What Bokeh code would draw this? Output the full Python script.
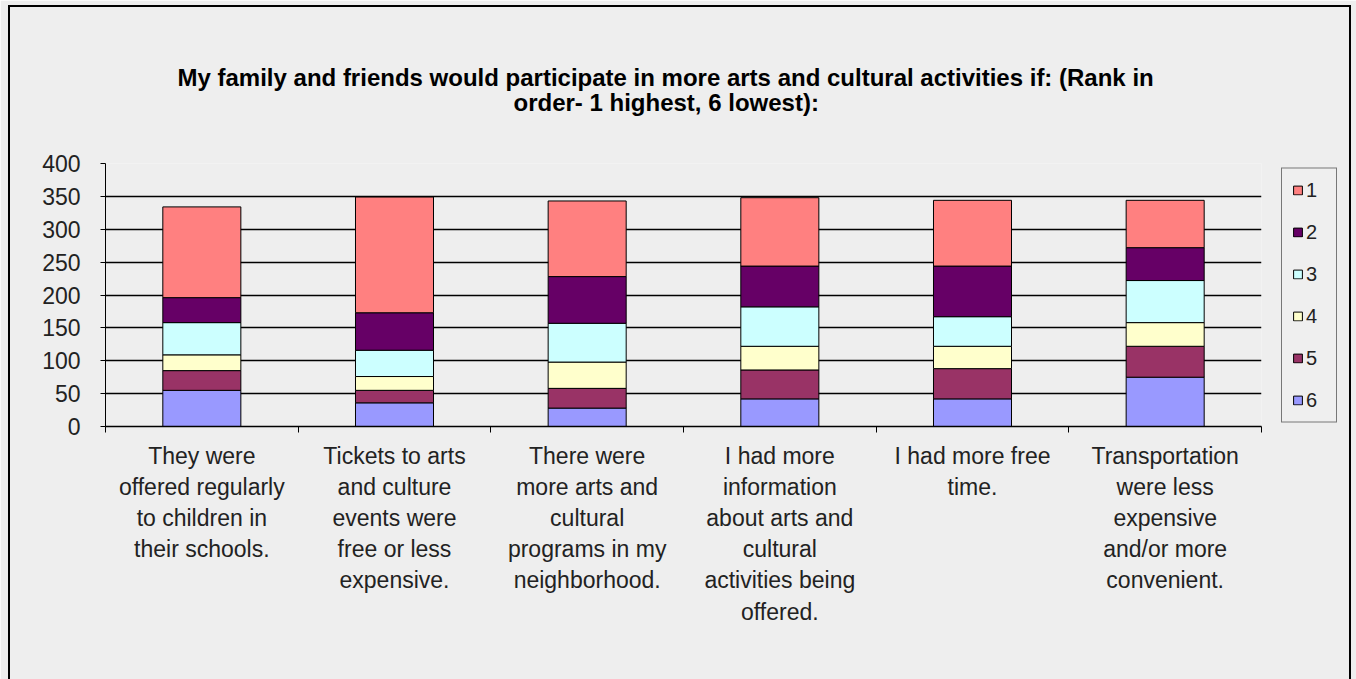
from bokeh.plotting import figure
from bokeh.models import FixedTicker, Legend, LegendItem, ColumnDataSource, Range1d, Title, InlineStyleSheet
from bokeh.embed import file_html
from bokeh.resources import INLINE

title_line1 = "My family and friends would participate in more arts and cultural activities if: (Rank in"
title_line2 = "order- 1 highest, 6 lowest):"

categories = [
    "They were\noffered regularly\nto children in\ntheir schools.",
    "Tickets to arts\nand culture\nevents were\nfree or less\nexpensive.",
    "There were\nmore arts and\ncultural\nprograms in my\nneighborhood.",
    "I had more\ninformation\nabout arts and\ncultural\nactivities being\noffered.",
    "I had more free\ntime.",
    "Transportation\nwere less\nexpensive\nand/or more\nconvenient.",
]

rank_names = ["1", "2", "3", "4", "5", "6"]
rank1 = [138, 176, 115, 104, 100, 72]
rank2 = [38, 57, 71, 62, 77, 50]
rank3 = [49, 40, 59, 60, 45, 64]
rank4 = [24, 21, 40, 36, 34, 36]
rank5 = [30, 19, 30, 44, 46, 47]
rank6 = [55, 36, 28, 42, 42, 75]
rank_colors = ["#FF8080", "#660066", "#CCFFFF", "#FFFFCC", "#993366", "#9999FF"]

y_ticks = [0, 50, 100, 150, 200, 250, 300, 350, 400]

FONT = "Liberation Sans"
BG = "#EEEEEE"

xpos = [i + 0.5 for i in range(len(categories))]
source = ColumnDataSource(dict(x=xpos, r1=rank1, r2=rank2, r3=rank3, r4=rank4, r5=rank5, r6=rank6))

p = figure(frame_width=1156, frame_height=263,
           x_range=Range1d(0, len(categories)), y_range=Range1d(0, 400),
           output_backend="svg", toolbar_location=None,
           min_border_left=105, min_border_right=95, min_border_top=163, min_border_bottom=253)
p.background_fill_color = BG
p.border_fill_color = BG
p.outline_line_color = None

stackers = ["r6", "r5", "r4", "r3", "r2", "r1"]
fills = list(reversed(rank_colors))
rends = p.vbar_stack(stackers, x="x", width=0.405, fill_color=fills, line_color="black",
                     line_width=1, source=source)

p.yaxis.ticker = FixedTicker(ticks=y_ticks)
p.yaxis.major_tick_in = 0
p.yaxis.major_tick_out = 5
p.yaxis.minor_tick_line_color = None
p.yaxis.axis_line_color = "black"
p.yaxis.major_label_text_font = FONT
p.yaxis.major_label_text_font_size = "23px"
p.yaxis.major_label_text_color = "#222222"
p.yaxis.major_label_standoff = 20

p.ygrid.grid_line_color = "black"
p.ygrid.grid_line_width = 1.5
p.ygrid.ticker = FixedTicker(ticks=y_ticks)
p.xgrid.visible = False

p.xaxis.ticker = FixedTicker(ticks=xpos, minor_ticks=list(range(len(categories) + 1)))
p.xaxis.major_tick_line_color = None
p.xaxis.major_tick_out = 0
p.xaxis.major_tick_in = 0
p.xaxis.minor_tick_out = 6
p.xaxis.minor_tick_in = 0
p.xaxis.minor_tick_line_color = "black"
p.xaxis.axis_line_color = "black"
p.xaxis.axis_line_width = 1.5
p.xaxis.major_label_overrides = {x: c for x, c in zip(xpos, categories)}
p.xaxis.major_label_text_font = FONT
p.xaxis.major_label_text_font_size = "23px"
p.xaxis.major_label_text_color = "#222222"
p.xaxis.major_label_standoff = 10

# title: p.title is outermost; extra titles are stacked from the frame outward
p.title.text = title_line1
p.title.align = "left"
p.title.offset = 72
p.title.text_font = FONT
p.title.text_font_size = "24px"
p.title.text_font_style = "bold"
p.title.text_color = "black"
p.title.standoff = -8
spacer = Title(text=" ", align="left", text_font=FONT, text_font_size="24px", standoff=19)
p.add_layout(spacer, "above")
t2 = Title(text=title_line2, align="left", offset=408, text_font=FONT, text_font_size="24px",
           text_font_style="bold", text_color="black", standoff=0)
p.add_layout(t2, "above")

items = [LegendItem(label=n, renderers=[r]) for n, r in zip(rank_names, reversed(rends))]
legend = Legend(items=items, location="left")
legend.glyph_width = 11
legend.glyph_height = 11
legend.label_standoff = 3
legend.label_height = 20
legend.spacing = 19
legend.padding = 10
legend.margin = 20
legend.label_text_font = FONT
legend.label_text_font_size = "20px"
legend.label_text_color = "#222222"
legend.border_line_color = "black"
legend.border_line_width = 1.5
legend.background_fill_color = BG
p.add_layout(legend, "right")

p.stylesheets = [InlineStyleSheet(css="""
:host { position: relative; }
:host::after { content: ""; position: absolute; left: 8px; top: 5px; width: 1339px; bottom: -30px;
  border: 2px solid black; pointer-events: none; }
""")]

open("out.html", "w").write(file_html(p, INLINE))
